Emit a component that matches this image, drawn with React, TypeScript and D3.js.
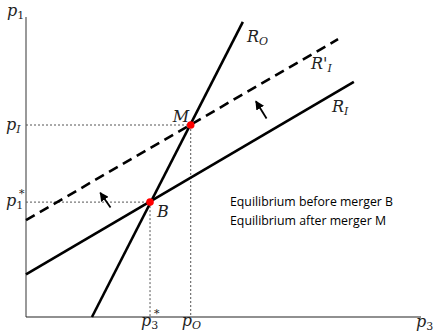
import React from "react";
import * as d3 from "d3";

const W = 435, H = 334;
const xDomain = [0, 10];
const yDomain = [0, 10];

// Curves: [x, y] endpoints in model units
const curveNames = ["R_O", "R_I", "R'_I"];
const curveRO = [[1.67, 0], [5.49, 9.84]];
const curveRI = [[0, 1.42], [8.3, 7.84]];
const curveRIp = [[0, 3.23], [7.9, 9.26]];

// Equilibria
const eqNames = ["B", "M"];
const eqX = [3.14, 4.17];
const eqY = [3.83, 6.4];

// Shift arrows [from, to]
const arrows = [
  [[2.14, 3.65], [1.88, 4.14]],
  [[6.09, 6.62], [5.82, 7.19]],
];

const legendLines = ["Equilibrium before merger B", "Equilibrium after merger M"];
const legendWidths = [163, 156];

export default function App() {
  const x = d3.scaleLinear().domain(xDomain).range([26, 421]);
  const y = d3.scaleLinear().domain(yDomain).range([317, 17]);
  const line = d3.line<number[]>().x(d => x(d[0])).y(d => y(d[1]));
  const serif = "'DejaVu Serif', 'Liberation Serif', serif";
  const it = { fontFamily: serif, fontStyle: "italic" as const, fontSize: 16, fill: "#222" };
  const sub = { fontSize: 11 };
  return (
    <svg width={W} height={H} style={{ position: "absolute", left: 0, top: 0 }}>
      <defs>
        <marker id="ah" viewBox="0 0 10 10" refX="9" refY="5" markerWidth="5" markerHeight="5" orient="auto">
          <path d="M0,0 L10,5 L0,10 z" fill="#000" />
        </marker>
      </defs>
      {/* guides */}
      <g stroke="#555" strokeWidth={1} strokeDasharray="2,2" fill="none">
        <line x1={x(0)} x2={x(eqX[0])} y1={y(eqY[0])} y2={y(eqY[0])} />
        <line x1={x(0)} x2={x(eqX[1])} y1={y(eqY[1])} y2={y(eqY[1])} />
        <line x1={x(eqX[0])} x2={x(eqX[0])} y1={y(eqY[0])} y2={y(0)} />
        <line x1={x(eqX[1])} x2={x(eqX[1])} y1={y(eqY[1])} y2={y(0)} />
      </g>
      {/* axes */}
      <line x1={x(0)} x2={x(0)} y1={y(0)} y2={y(10)} stroke="#555" strokeWidth={1.2} />
      <line x1={x(0)} x2={x(10)} y1={y(0)} y2={y(0)} stroke="#222" strokeWidth={1.2} />
      {/* curves */}
      <path d={line(curveRO as any) || ""} stroke="#000" strokeWidth={2.6} fill="none" />
      <path d={line(curveRI as any) || ""} stroke="#000" strokeWidth={2.6} fill="none" />
      <path d={line(curveRIp as any) || ""} stroke="#000" strokeWidth={2.6} fill="none" strokeDasharray="10,6" />
      {/* arrows */}
      {arrows.map((a, i) => (
        <line key={i} x1={x(a[0][0])} y1={y(a[0][1])} x2={x(a[1][0])} y2={y(a[1][1])}
          stroke="#000" strokeWidth={1.8} markerEnd="url(#ah)" />
      ))}
      {/* points */}
      {eqX.map((v, i) => (
        <circle key={i} cx={x(v)} cy={y(eqY[i])} r={3.8} fill="#f00" />
      ))}
      {/* labels */}
      <text x={7} y={16} {...it}>p<tspan {...sub} fontStyle="normal" dy={3}>1</tspan></text>
      <text x={6} y={130} {...it}>p<tspan {...sub} dy={3}>I</tspan></text>
      <text x={6} y={206} {...it}>p<tspan {...sub} fontStyle="normal" dy={3}>1</tspan></text>
      <text x={19} y={197} {...it} fontSize={11}>*</text>
      <text x={x(eqX[0]) - 9} y={326} {...it}>p<tspan {...sub} fontStyle="normal" dy={3}>3</tspan></text>
      <text x={x(eqX[0]) + 4} y={317} {...it} fontSize={11}>*</text>
      <text x={x(eqX[1]) - 9} y={326} {...it}>p<tspan {...sub} dy={3}>O</tspan></text>
      <text x={416} y={327} {...it}>p<tspan {...sub} fontStyle="normal" dy={3}>3</tspan></text>
      <text x={247} y={42} {...it}>R<tspan {...sub} dy={3}>O</tspan></text>
      <text x={311} y={69} {...it}>R'<tspan {...sub} dy={3}>I</tspan></text>
      <text x={332} y={112} {...it}>R<tspan {...sub} dy={3}>I</tspan></text>
      <text x={x(eqX[1]) - 18} y={y(eqY[1]) - 3} {...it}>{eqNames[1]}</text>
      <text x={x(eqX[0]) + 7} y={y(eqY[0]) + 15} {...it}>{eqNames[0]}</text>
      {legendLines.map((t, i) => (
        <text key={i} x={230} y={206 + i * 19} fontFamily="'Open Sans', sans-serif" fontSize={13}
          textLength={legendWidths[i]} lengthAdjust="spacingAndGlyphs" fill="#000">{t}</text>
      ))}
    </svg>
  );
}
